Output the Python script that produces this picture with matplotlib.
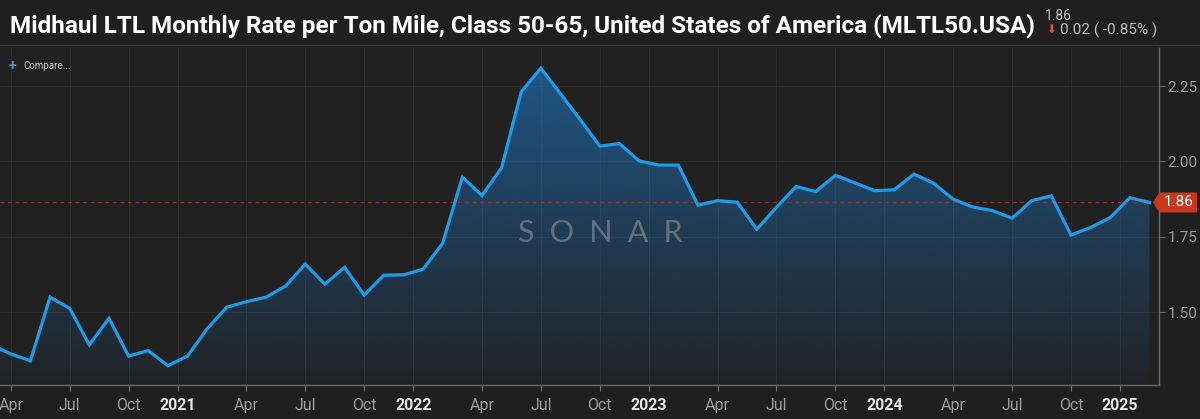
import numpy as np
import matplotlib
matplotlib.use("Agg")
import matplotlib.pyplot as plt
import matplotlib.colors as mcolors
from matplotlib.patches import Polygon

# ---- data: monthly rate, Mar 2020 -> Feb 2025 ----
start_year = 2020
start_month = 3
rate = [
    1.392, 1.362, 1.339, 1.550, 1.513, 1.392, 1.480, 1.355, 1.373, 1.323,          # 2020
    1.355, 1.445, 1.517, 1.535, 1.550, 1.587, 1.660, 1.593, 1.649, 1.557, 1.623, 1.624,  # 2021
    1.643, 1.729, 1.948, 1.887, 1.979, 2.231, 2.309, 2.224, 2.139, 2.051, 2.059, 2.002,  # 2022
    1.988, 1.988, 1.855, 1.870, 1.865, 1.775, 1.848, 1.917, 1.900, 1.954, 1.929, 1.903,  # 2023
    1.906, 1.958, 1.928, 1.875, 1.849, 1.837, 1.812, 1.870, 1.886, 1.756, 1.781, 1.814,  # 2024
    1.880, 1.864,                                                                  # 2025
]
y_ticks = [1.50, 1.75, 2.00, 2.25]
month_ticks = [(4, "Apr"), (7, "Jul"), (10, "Oct")]
years = [2020, 2021, 2022, 2023, 2024, 2025]

title = "Midhaul LTL Monthly Rate per Ton Mile, Class 50-65, United States of America (MLTL50.USA)"
last_txt = "1.86"
change_txt = "0.02 ( -0.85% )"

# colours
BG = "#1f1f1f"
PLOT_BG = "#212121"
LINE = "#1e9be9"
GRID = "#2d2d2d"
MUTED = "#9c9c9c"
TAG = "#c9371d"

plt.rcParams['font.family'] = ['Roboto', 'DejaVu Sans']

x = np.arange(len(rate))
vals = np.array(rate)

# ticks: months at their index, years half a month before January
tick_pos, tick_lab, tick_year = [], [], []
for yr in years:
    if yr > start_year:
        tick_pos.append((yr - start_year) * 12 + (1 - start_month) - 0.5)
        tick_lab.append(str(yr))
        tick_year.append(True)
    for m, lab in month_ticks:
        idx = (yr - start_year) * 12 + (m - start_month)
        if 0 <= idx < len(rate):
            tick_pos.append(idx)
            tick_lab.append(lab)
            tick_year.append(False)

fig = plt.figure(figsize=(12, 4.19), dpi=100, facecolor=BG)
ax = fig.add_axes([0.0, 1 - 385 / 419, 1159.3 / 1200, (385 - 48) / 419])
ax.set_facecolor(PLOT_BG)

xlim = (0.45, 59.5)
ylim = (1.259, 2.376)

# gradient fill under the line
grad = np.linspace(1, 0, 256)
rgba = np.zeros((256, 1, 4))
rgba[..., :3] = mcolors.to_rgb("#1e7dcf")
rgba[..., 3] = (0.03 + 0.58 * grad)[:, None]
im = ax.imshow(rgba, aspect="auto", extent=[xlim[0], xlim[1], ylim[0], ylim[1]],
               origin="upper", zorder=1, interpolation="bilinear")
area = ax.fill_between(x, vals, ylim[0] - 1, color="none", linewidth=0)
im.set_clip_path(area.get_paths()[0], transform=ax.transData)

ax.plot(x, vals, color=LINE, linewidth=2.3, zorder=3, solid_joinstyle="miter")

# last value dashed line
ax.axhline(vals[-1], color="#8a3426", linestyle=(0, (3, 3)), linewidth=0.9, zorder=2)

ax.set_xlim(*xlim)
ax.set_ylim(*ylim)

# grid
for p in tick_pos:
    ax.axvline(p, color=GRID, linewidth=0.8, zorder=0.5)
for t in y_ticks:
    ax.axhline(t, color=GRID, linewidth=0.8, zorder=0.5)

# axes
for s in ["top", "left"]:
    ax.spines[s].set_visible(False)
for s in ["right", "bottom"]:
    ax.spines[s].set_color("#6b6b6b")
    ax.spines[s].set_linewidth(1.0)

ax.yaxis.tick_right()
ax.set_yticks(y_ticks)
ax.set_yticklabels([f"{t:.2f}" for t in y_ticks])
ax.tick_params(axis="y", colors="#6b6b6b", labelcolor=MUTED, labelsize=11, length=4, pad=2)

ax.set_xticks(tick_pos)
ax.set_xticklabels(tick_lab)
ax.tick_params(axis="x", colors="#6b6b6b", labelcolor=MUTED, labelsize=11.5, length=4, pad=5)
for lab, is_year in zip(ax.get_xticklabels(), tick_year):
    if is_year:
        lab.set_color("#e6e6e6")
        lab.set_fontweight("bold")

# price tag for the last value
trans = ax.get_yaxis_transform()
h = 10 * (ylim[1] - ylim[0]) / 337
tag = Polygon([(0.9946, vals[-1]), (1.0, vals[-1] + h), (1.0325, vals[-1] + h),
               (1.0325, vals[-1] - h), (1.0, vals[-1] - h)],
              closed=True, transform=trans, facecolor=TAG, edgecolor="none",
              clip_on=False, zorder=5)
ax.add_patch(tag)
ax.text(1.0165, vals[-1], last_txt, transform=trans, color="white", fontsize=11,
        ha="center", va="center", clip_on=False, zorder=6)

# watermark
ax.text(0.5175, 0.451, "S\u2002O\u2002N\u2002A\u2002R", transform=ax.transAxes,
        color="#66707d", fontsize=22, family=["Lato", "DejaVu Sans"],
        fontweight="normal", ha="center", va="center", zorder=4)

# header
fig.add_artist(plt.Line2D([0, 1], [1 - 45 / 419] * 2, color="#353535", linewidth=1))
fig.text(10 / 1200, 1 - 26 / 419, title, color="white", fontsize=17.5, fontweight="bold",
         ha="left", va="center")
fig.text(1045 / 1200, 1 - 16 / 419, last_txt, color="#bdbdbd", fontsize=10,
         ha="left", va="center")
fig.text(1046 / 1200, 1 - 30 / 419, "\u2b07", color="#e0533f", fontsize=8.5,
         family=["DejaVu Sans"], ha="left", va="center")
fig.text(1060 / 1200, 1 - 30 / 419, change_txt, color="#bdbdbd", fontsize=11,
         ha="left", va="center")

fig.text(9 / 1200, 1 - 66 / 419, "+", color="#4a90d9", fontsize=10, fontweight="bold",
         ha="left", va="center")
fig.text(23 / 1200, 1 - 66 / 419, "Compare...", color="#c8c8c8", fontsize=7,
         ha="left", va="center")

fig.savefig("out.png", dpi=100, facecolor=BG)
